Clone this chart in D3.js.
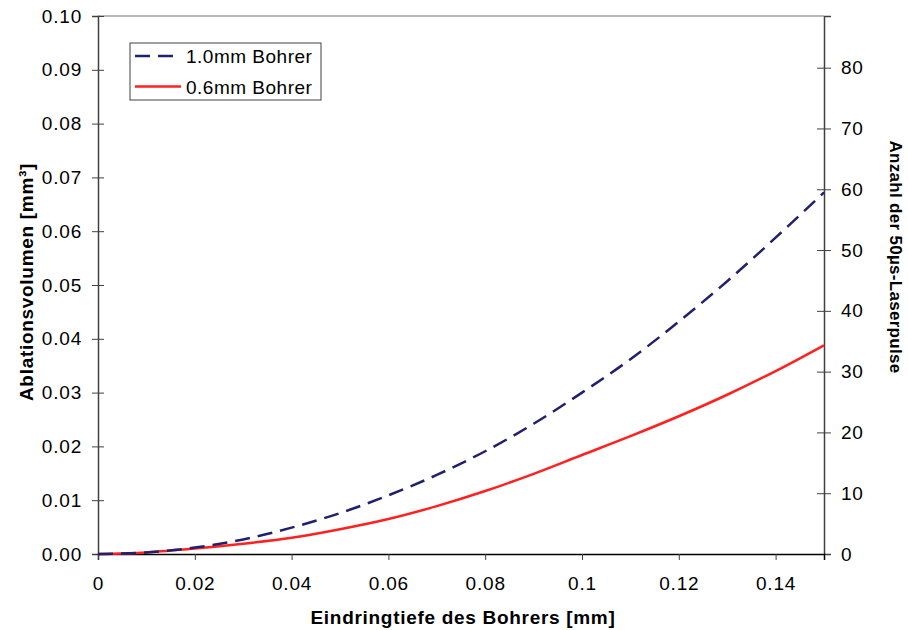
<!DOCTYPE html>
<html>
<head>
<meta charset="utf-8">
<script src="https://cdn.jsdelivr.net/npm/d3@7"></script>
<style>
  body { margin: 0; background: #fff; }
  text { font-family: "Liberation Sans", Arial, sans-serif; }
</style>
</head>
<body>
<svg></svg>
<script>
// Data
const depth = [0, 0.01, 0.02, 0.03, 0.04, 0.05, 0.06, 0.07, 0.08, 0.09, 0.10, 0.11, 0.12, 0.13, 0.14, 0.15];
const drill10 = [0, 0.0003, 0.0012, 0.0027, 0.0049, 0.0076, 0.0109, 0.0147, 0.0191, 0.0242, 0.0300, 0.0362, 0.0432, 0.0507, 0.0588, 0.0672];
const drill06 = [0, 0.0003, 0.0010, 0.0019, 0.0030, 0.0046, 0.0065, 0.0089, 0.0117, 0.0149, 0.0184, 0.0219, 0.0256, 0.0296, 0.0340, 0.0388];

const seriesNames = ["1.0mm Bohrer", "0.6mm Bohrer"];
const xTicks = [0, 0.02, 0.04, 0.06, 0.08, 0.1, 0.12, 0.14];
const xTickLabels = ["0", "0.02", "0.04", "0.06", "0.08", "0.1", "0.12", "0.14"];
const yTicks = [0, 0.01, 0.02, 0.03, 0.04, 0.05, 0.06, 0.07, 0.08, 0.09, 0.10];
const y2Ticks = [0, 10, 20, 30, 40, 50, 60, 70, 80];

// Plot sizes
const margin = { l: 98, r: 84, t: 16, b: 76 };
const W = 908, H = 630;
const width = W - margin.l - margin.r;
const height = H - margin.t - margin.b;

const svg = d3.select("svg")
  .attr("width", W)
  .attr("height", H);

const g = svg.append("g")
  .attr("transform", `translate(${margin.l}, ${margin.t})`);

const x = d3.scaleLinear().domain([0, 0.15]).range([0, width]);
const y = d3.scaleLinear().domain([0, 0.10]).range([height, 0]);
const y2 = d3.scaleLinear().domain([0, 88.5]).range([height, 0]);

const fontSize = 19;

// top border
g.append("line")
  .attr("x1", 0).attr("x2", width)
  .attr("y1", 0).attr("y2", 0)
  .attr("stroke", "#a0a0a0").attr("stroke-width", 1.5);

function styleTicks(sel) {
  sel.selectAll(".tick text")
    .attr("font-size", fontSize)
    .attr("fill", "#000")
    .attr("letter-spacing", 0.8)
    .style("font-family", "'Liberation Sans', Arial, sans-serif");
}

// left axis
const yAxis = g.append("g")
  .call(d3.axisLeft(y).tickValues(yTicks).tickFormat(d3.format(".2f")).tickSize(6).tickPadding(10));
yAxis.select(".domain").attr("stroke", "#404040").attr("stroke-width", 1.5);
yAxis.selectAll(".tick line").attr("x1", -6).attr("x2", 6).attr("stroke", "#404040");
styleTicks(yAxis);

// right axis
const y2Axis = g.append("g")
  .attr("transform", `translate(${width}, 0)`)
  .call(d3.axisRight(y2).tickValues(y2Ticks).tickFormat(d3.format("d")).tickSize(7).tickPadding(10));
y2Axis.select(".domain").attr("stroke", "#404040").attr("stroke-width", 1.5);
y2Axis.selectAll(".tick line").attr("x1", -7).attr("x2", 7).attr("stroke", "#404040");
styleTicks(y2Axis);

// bottom axis
const xAxis = g.append("g")
  .attr("transform", `translate(0, ${height})`)
  .call(d3.axisBottom(x).tickValues(xTicks).tickFormat((d, i) => xTickLabels[i]).tickSize(6).tickPadding(17));
xAxis.select(".domain").attr("stroke", "#000").attr("stroke-width", 1.5);
xAxis.selectAll(".tick line").attr("stroke", "#404040");
styleTicks(xAxis);

// lines
const line = d3.line()
  .x((d, i) => x(depth[i]))
  .y(d => y(d))
  .curve(d3.curveMonotoneX);

g.append("path")
  .datum(drill06)
  .attr("d", line)
  .attr("fill", "none")
  .attr("stroke", "#ff2020")
  .attr("stroke-width", 2.5);

g.append("path")
  .datum(drill10)
  .attr("d", line)
  .attr("fill", "none")
  .attr("stroke", "#20206e")
  .attr("stroke-width", 2.5)
  .attr("stroke-dasharray", "15,8");

// legend
const legend = svg.append("g").attr("transform", "translate(130, 43)");
legend.append("rect")
  .attr("width", 191).attr("height", 57)
  .attr("fill", "#fff").attr("stroke", "#404040").attr("stroke-width", 1);
const legendStyles = [
  { color: "#20206e", dash: "15,8" },
  { color: "#ff2020", dash: null }
];
seriesNames.forEach((name, i) => {
  const ly = 13 + i * 30.5;
  legend.append("line")
    .attr("x1", 5).attr("x2", 51).attr("y1", ly).attr("y2", ly)
    .attr("stroke", legendStyles[i].color).attr("stroke-width", 2.5)
    .attr("stroke-dasharray", legendStyles[i].dash);
  legend.append("text")
    .attr("x", 56).attr("y", ly + 7)
    .attr("font-size", fontSize)
    .attr("letter-spacing", 0.5)
    .text(name);
});

// axis titles
svg.append("text")
  .attr("x", margin.l + width / 2 + 2).attr("y", 624)
  .attr("text-anchor", "middle")
  .attr("font-size", fontSize).attr("font-weight", "bold")
  .attr("letter-spacing", 0.7)
  .text("Eindringtiefe des Bohrers [mm]");

svg.append("text")
  .attr("transform", "translate(33, 282) rotate(-90)")
  .attr("text-anchor", "middle")
  .attr("font-size", fontSize).attr("font-weight", "bold")
  .attr("letter-spacing", 0.7)
  .text("Ablationsvolumen [mm³]");

svg.append("text")
  .attr("transform", "translate(890, 257) rotate(90)")
  .attr("text-anchor", "middle")
  .attr("font-size", 17).attr("font-weight", "bold")
  .attr("letter-spacing", 0.3)
  .text("Anzahl der 50µs-Laserpulse");
</script>
</body>
</html>
